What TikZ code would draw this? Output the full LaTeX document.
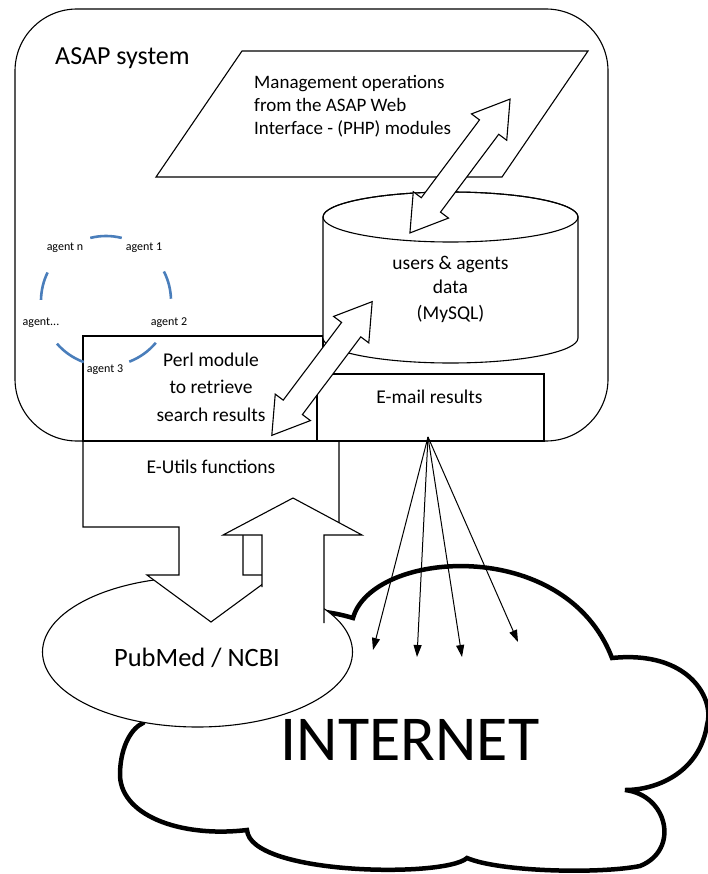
\documentclass[tikz,border=0pt]{standalone}
\usepackage{fontspec}
\setmainfont{Carlito}
\usetikzlibrary{arrows.meta}

\definecolor{agentblue}{RGB}{74,126,187}

\begin{document}
\begin{tikzpicture}[x=1pt, y=-1pt,
  box/.style={draw, line width=1.1pt, fill=white},
  txt/.style={font=\fontsize{19.5}{24}\selectfont, align=center, anchor=base, inner sep=0pt},
  agent/.style={font=\fontsize{12}{14}\selectfont, anchor=base, inner sep=0pt},
  agentarc/.style={draw=agentblue, line width=2.6pt},
  mail/.style={-{Triangle[length=12pt,width=8pt]}, line width=1pt},
  dblarrow/.pic={
    \draw[box, line join=miter] (-83.6pt,0pt) -- (-48.6pt,22pt) -- (-48.6pt,12pt)
      -- (48.6pt,12pt) -- (48.6pt,22pt) -- (83.6pt,0pt) -- (48.6pt,-22pt)
      -- (48.6pt,-12pt) -- (-48.6pt,-12pt) -- (-48.6pt,-22pt) -- cycle;
  }]

\useasboundingbox (0,0) rectangle (708,874);

% The internet cloud
\draw[line width=4.5pt, fill=white, line join=miter] (143,723)
  .. controls (150,640) and (260,590) .. (353,618)
  .. controls (372,550) and (565,535) .. (612,658)
  .. controls (690,650) and (715,700) .. (707,725)
  .. controls (700,770) and (660,790) .. (625,790)
  .. controls (668,795) and (680,850) .. (640,866)
  .. controls (600,874) and (500,872) .. (467,858)
  .. controls (445,878) and (250,875) .. (247,830)
  .. controls (180,838) and (118,815) .. (120,772)
  .. controls (121,745) and (132,728) .. (143,723) -- cycle;
\node[anchor=base, inner sep=0pt, font=\fontsize{64}{70}\selectfont] (internet) at (410,760) {INTERNET};

% PubMed / NCBI
\draw[box] (197.5,652) ellipse [x radius=155pt, y radius=75pt];
\node[txt, font=\fontsize{26.5}{30}\selectfont] (pubmed) at (197,666) {PubMed / NCBI};

% E-Utils block with the arrow down to PubMed
\draw[box, line join=miter] (83,441) -- (339,441) -- (339,527) -- (243,527) -- (243,575)
  -- (275,575) -- (211,622) -- (147,575) -- (179,575) -- (179,527) -- (83,527) -- cycle;
\node[txt] (eutils) at (211,473) {E-Utils functions};

% Arrow up from PubMed
\fill[white] (262,600) -- (262,535) -- (223,535) -- (293,498) -- (362,535) -- (324,535) -- (324,623) -- cycle;
\draw[line width=1.1pt, line join=miter] (262,587) -- (262,535) -- (223,535) -- (293,498)
  -- (362,535) -- (324,535) -- (324,623);

% The ASAP system
\draw[box, rounded corners=62pt] (15,9) rectangle (608,441);
\node[anchor=base west, inner sep=0pt, font=\fontsize{26}{30}\selectfont] (asap) at (55,65) {ASAP system};

% Web interface
\draw[box] (242,51) -- (588,51) -- (502,177) -- (156,177) -- cycle;
\node[txt, anchor=base west, align=left, font=\fontsize{19}{23}\selectfont] (webif) at (254,135)
  {Management operations\\from the ASAP Web\\Interface - (PHP) modules};

% Perl module
\draw[box] (83,336) rectangle (323,441);
\node[txt, font=\fontsize{19.5}{27.5}\selectfont] (perl) at (211,421) {Perl module\\to retrieve\\search results};

% Database
\draw[box] (323,217) -- (323,338) arc[start angle=180, end angle=360, x radius=127.5pt, y radius=25pt]
  -- (578,217) arc[start angle=0, end angle=180, x radius=127.5pt, y radius=25pt] -- cycle;
\draw[line width=1.1pt] (450.5,217) ellipse [x radius=127.5pt, y radius=25pt];
\node[txt, font=\fontsize{19.5}{25}\selectfont] (db) at (450.5,319) {users \& agents\\data\\(MySQL)};

% E-mail
\draw[box] (317,374) rectangle (544,441);
\node[txt] (email) at (429.5,403) {E-mail results};

% Double arrows
\coordinate (webdb) at (460,166);
\coordinate (dbperl) at (322,368.5);
\pic[rotate=53.2] at (webdb) {dblarrow};
\pic[rotate=53.1] at (dbperl) {dblarrow};

% Agents
\coordinate (agc) at (106,301);
\draw[agentarc] (agc) ++(76:65pt) arc[start angle=76, end angle=104, radius=65pt];
\draw[agentarc] (agc) ++(2:65pt) arc[start angle=2, end angle=27, radius=65pt];
\draw[agentarc] (agc) ++(-69:65pt) arc[start angle=-69, end angle=-40, radius=65pt];
\draw[agentarc] (agc) ++(-139:65pt) arc[start angle=-139, end angle=-110, radius=65pt];
\draw[agentarc] (agc) ++(154:65pt) arc[start angle=154, end angle=179, radius=65pt];
\node[agent] (agn) at (65,251) {agent n};
\node[agent] (ag1) at (144,251) {agent 1};
\node[agent] (ag2) at (169,325) {agent 2};
\node[agent] (agx) at (41,325) {agent...};
\node[agent] (ag3) at (105,372) {agent 3};

% Mails out to the internet
\coordinate (mailsrc) at (428,437);
\coordinate (m1) at (373,650);
\coordinate (m2) at (417,657);
\coordinate (m3) at (462,657);
\coordinate (m4) at (518,642);
\foreach \m in {m1,m2,m3,m4}
  \draw[mail] (mailsrc) -- (\m);

\end{tikzpicture}
\end{document}
